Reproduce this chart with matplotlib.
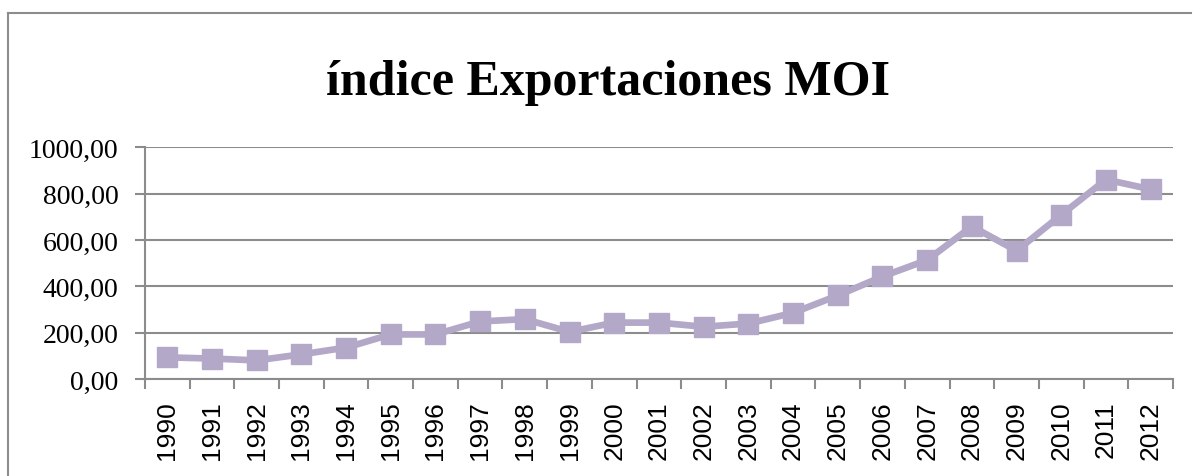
import matplotlib.pyplot as plt
from matplotlib.lines import Line2D
from matplotlib.ticker import FuncFormatter

years = ['1990', '1991', '1992', '1993', '1994', '1995', '1996', '1997',
         '1998', '1999', '2000', '2001', '2002', '2003', '2004', '2005',
         '2006', '2007', '2008', '2009', '2010', '2011', '2012']
indice = [94, 89, 81, 107, 136, 193, 193, 249, 259, 204, 244, 244,
          226, 240, 286, 361, 443, 514, 659, 554, 709, 861, 819]
y_ticks = [0, 200, 400, 600, 800, 1000]

gris = '#8c8c8c'
color_linea = '#b3a8c8'

fig = plt.figure(figsize=(11.97, 4.77), dpi=100)
ax = fig.add_axes([0.121, 0.203, 0.859, 0.486])

x = list(range(len(years)))
ax.plot(x, indice, color=color_linea, lw=4.8, marker='s', markersize=14.5,
        markerfacecolor=color_linea, markeredgecolor=color_linea, zorder=3,
        clip_on=False)

# ejes
ax.set_xlim(-0.5, len(years) - 0.5)
ax.set_ylim(0, 1000)
ax.set_yticks(y_ticks)
ax.yaxis.set_major_formatter(FuncFormatter(lambda v, p: ('%.2f' % v).replace('.', ',')))
ax.grid(axis='y', color=gris, lw=1.5)
ax.set_axisbelow(True)

ax.set_xticks(x)
ax.set_xticklabels(years, rotation=90, fontsize=19, family='Liberation Sans')
ax.set_xticks([i - 0.5 for i in range(len(years) + 1)], minor=True)
ax.tick_params(axis='x', which='major', length=0, pad=15)
ax.tick_params(axis='x', which='minor', length=7, width=1.5, color=gris)
ax.tick_params(axis='y', length=7, width=1.5, color=gris, pad=12)
for lab in ax.get_yticklabels():
    lab.set_family('Liberation Serif')
    lab.set_fontsize(20)

for s in ['top', 'right']:
    ax.spines[s].set_visible(False)
for s in ['left', 'bottom']:
    ax.spines[s].set_color(gris)
    ax.spines[s].set_linewidth(1.5)

# titulo
fig.text(0.508, 0.825, 'índice Exportaciones MOI', ha='center', va='center',
         fontsize=36, fontweight='bold', family='Liberation Serif')

# borde del grafico
fig.add_artist(Line2D([0.007, 0.995], [0.971, 0.971], color=gris, lw=1.5,
                      transform=fig.transFigure))
fig.add_artist(Line2D([0.007, 0.007], [0.0, 0.971], color=gris, lw=1.5,
                      transform=fig.transFigure))

fig.savefig('out.png', dpi=100)
